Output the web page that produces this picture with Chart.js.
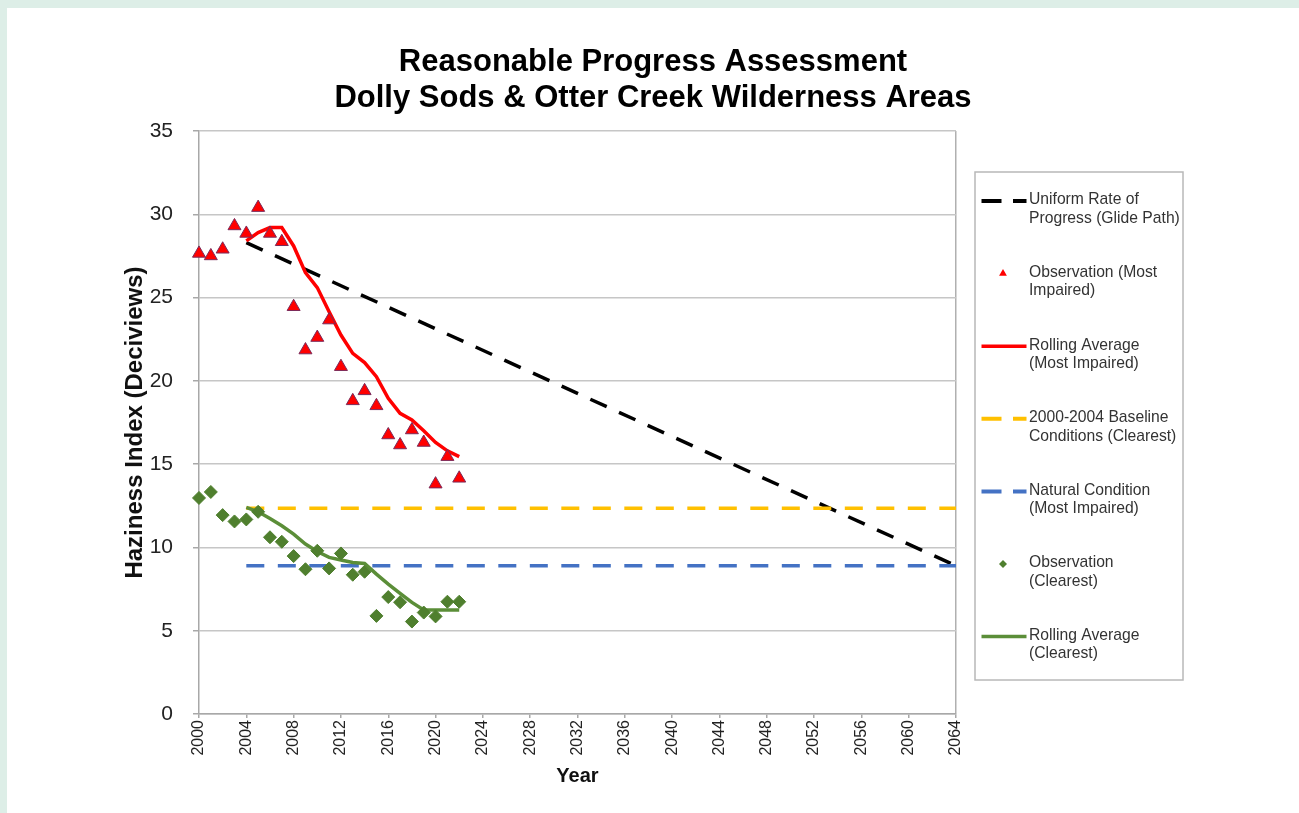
<!DOCTYPE html>
<html><head><meta charset="utf-8">
<script src="https://cdn.jsdelivr.net/npm/chart.js@4.4.1/dist/chart.umd.min.js"></script>
<style>
html,body{margin:0;padding:0;background:#ddeee7;width:1299px;height:813px;overflow:hidden}
#wrap{position:absolute;left:7px;top:8px;width:1292px;height:805px;background:#fff}
canvas{display:block}
</style></head><body><div id="wrap"><canvas id="c" width="1292" height="805"></canvas></div>
<script>
// ---------- data ----------
const titleLines = ["Reasonable Progress Assessment", "Dolly Sods & Otter Creek Wilderness Areas"];
const obsYears = [2000,2001,2002,2003,2004,2005,2006,2007,2008,2009,2010,2011,2012,2013,2014,2015,2016,2017,2018,2019,2020,2021,2022];
const obsMostImpaired = [27.65,27.5,27.9,29.3,28.85,30.4,28.85,28.35,24.45,21.85,22.6,23.65,20.85,18.8,19.4,18.5,16.75,16.15,17.05,16.3,13.8,15.45,14.15];
const obsClearest = [12.97,13.33,11.94,11.56,11.68,12.14,10.61,10.34,9.48,8.69,9.8,8.74,9.64,8.36,8.54,5.89,7.02,6.71,5.55,6.09,5.86,6.74,6.74];
const rollYears = [2004,2005,2006,2007,2008,2009,2010,2011,2012,2013,2014,2015,2016,2017,2018,2019,2020,2021,2022];
const rollMostImpaired = [28.4,28.9,29.2,29.2,28.1,26.5,25.6,24.15,22.75,21.65,21.1,20.25,18.95,18.05,17.65,17.0,16.3,15.8,15.45];
const rollClearest = [12.4,12.14,11.74,11.3,10.8,10.2,9.75,9.4,9.25,9.1,9.04,8.4,7.8,7.24,6.7,6.24,6.24,6.24,6.24];
const glideYears = [2004, 2064];
const glidePath = [28.3, 8.9];
const refYears = [2004, 2064];
const baselineClearest = [12.35, 12.35];
const naturalMostImpaired = [8.9, 8.9];
const xTickValues = [2000,2004,2008,2012,2016,2020,2024,2028,2032,2036,2040,2044,2048,2052,2056,2060,2064];
const yTickValues = [0,5,10,15,20,25,30,35];
const legendLabels = [
  ["Uniform Rate of","Progress (Glide Path)"],
  ["Observation (Most","Impaired)"],
  ["Rolling Average","(Most Impaired)"],
  ["2000-2004 Baseline","Conditions (Clearest)"],
  ["Natural Condition","(Most Impaired)"],
  ["Observation","(Clearest)"],
  ["Rolling Average","(Clearest)"]
];

const pts = (xs, ys) => xs.map((x, i) => ({x: x, y: ys[i]}));
const FONT = "'Liberation Sans', Arial, sans-serif";
Chart.defaults.font.family = FONT;

const DASH = [18, 13.5];
const datasets = [
  {label: legendLabels[0].join(' '), type:'line', data: pts(glideYears, glidePath), borderColor:'#000000', borderWidth:3.5, borderDash:DASH, pointRadius:0, order:7, kind:'dash'},
  {label: legendLabels[1].join(' '), type:'line', data: pts(obsYears, obsMostImpaired), showLine:false, clip:false, pointStyle:'triangle', pointRadius:7.5, backgroundColor:'#ff0000', borderColor:'#7a2a5a', pointBorderWidth:1, order:1, kind:'tri'},
  {label: legendLabels[2].join(' '), type:'line', data: pts(rollYears, rollMostImpaired), borderColor:'#ff0000', borderWidth:3.5, pointRadius:0, order:3, kind:'line'},
  {label: legendLabels[3].join(' '), type:'line', data: pts(refYears, baselineClearest), borderColor:'#ffc000', borderWidth:3.5, borderDash:DASH, pointRadius:0, order:6, kind:'dash'},
  {label: legendLabels[4].join(' '), type:'line', data: pts(refYears, naturalMostImpaired), borderColor:'#4472c4', borderWidth:3.5, borderDash:DASH, pointRadius:0, order:5, kind:'dash'},
  {label: legendLabels[5].join(' '), type:'line', data: pts(obsYears, obsClearest), showLine:false, clip:false, pointStyle:'rectRot', pointRadius:6.5, backgroundColor:'#4f7f2e', borderColor:'#4f7f2e', pointBorderWidth:1, order:2, kind:'dia'},
  {label: legendLabels[6].join(' '), type:'line', data: pts(rollYears, rollClearest), borderColor:'#5b8e38', borderWidth:3.5, pointRadius:0, order:4, kind:'line'}
];

const titlePlugin = {
  id:'titleDraw',
  afterDraw(chart){
    const ctx = chart.ctx; ctx.save();
    ctx.fillStyle = '#000'; ctx.font = 'bold 31px ' + FONT;
    ctx.textAlign = 'center'; ctx.textBaseline = 'middle';
    titleLines.forEach((t, i) => ctx.fillText(t, 646, 54 + i * 36));
    ctx.restore();
  }
};

const legendPlugin = {
  id:'boxLegend',
  afterDraw(chart){
    const ctx = chart.ctx; ctx.save();
    ctx.strokeStyle = '#b8b8b8'; ctx.lineWidth = 1.5;
    ctx.strokeRect(968, 164, 208, 508);
    chart.data.datasets.forEach((ds, i) => {
      const y0 = 192 + 72.6 * i;
      const sy = y0 + 1;
      ctx.save();
      if (ds.kind === 'line' || ds.kind === 'dash') {
        ctx.strokeStyle = ds.borderColor; ctx.lineWidth = ds.kind === 'dash' ? 4 : 3.5;
        ctx.setLineDash(ds.kind === 'dash' ? [20, 11.5] : []);
        ctx.beginPath(); ctx.moveTo(974.5, sy); ctx.lineTo(1019.5, sy); ctx.stroke();
      } else if (ds.kind === 'tri') {
        const r = 4.5, cx = 996, cy = sy;
        ctx.fillStyle = ds.backgroundColor;
        ctx.beginPath();
        for (let k = 0; k < 3; k++) {
          const a = k * 2 * Math.PI / 3;
          const px = cx + Math.sin(a) * r, py = cy - Math.cos(a) * r;
          k ? ctx.lineTo(px, py) : ctx.moveTo(px, py);
        }
        ctx.closePath(); ctx.fill();
      } else if (ds.kind === 'dia') {
        const r = 4, cx = 996, cy = sy;
        ctx.fillStyle = ds.backgroundColor;
        ctx.beginPath(); ctx.moveTo(cx, cy - r); ctx.lineTo(cx + r, cy); ctx.lineTo(cx, cy + r); ctx.lineTo(cx - r, cy); ctx.closePath(); ctx.fill();
      }
      ctx.restore();
      ctx.fillStyle = '#333'; ctx.font = '15.7px ' + FONT;
      ctx.textAlign = 'left'; ctx.textBaseline = 'middle';
      legendLabels[i].forEach((t, j) => ctx.fillText(t, 1022, y0 + j * 18.5));
    });
    ctx.restore();
  }
};

new Chart(document.getElementById('c'), {
  type:'line',
  data:{datasets: datasets},
  options:{
    responsive:false, animation:false, devicePixelRatio:1,
    layout:{padding:{top:123, right:343, left:0, bottom:0}},
    plugins:{legend:{display:false}, title:{display:false}, tooltip:{enabled:false}},
    scales:{
      x:{
        type:'linear', min:2000, max:2064,
        afterBuildTicks: s => { s.ticks = xTickValues.map(v => ({value:v})); },
        afterFit: s => { s.height = 99; },
        ticks:{autoSkip:false, maxRotation:90, minRotation:90, padding:2, color:'#222', font:{size:16}, callback: v => String(v)},
        grid:{color: c => (c.tick && c.tick.value === 2064) ? '#b0b0b0' : 'rgba(0,0,0,0)', lineWidth:1.5, tickColor:'#a8a8a8', tickLength:4, drawOnChartArea:true},
        border:{color:'#a8a8a8', width:1.5},
        title:{display:true, text:'Year', color:'#111', font:{size:20, weight:'bold'}, padding:{top:0, bottom:25}}
      },
      y:{
        type:'linear', min:0, max:35,
        afterBuildTicks: s => { s.ticks = yTickValues.map(v => ({value:v})); },
        afterFit: s => { s.width = 192; },
        ticks:{padding:20, color:'#222', font:{size:21}, callback: v => String(v)},
        grid:{color:'#c6c6c6', lineWidth:1.5, tickColor:'#a8a8a8', tickLength:6},
        border:{color:'#a8a8a8', width:1.5},
        title:{display:true, text:'Haziness Index (Deciviews)', color:'#111', font:{size:24, weight:'bold'}, padding:{top:114, bottom:0}}
      }
    }
  },
  plugins:[titlePlugin, legendPlugin]
});
</script></body></html>
